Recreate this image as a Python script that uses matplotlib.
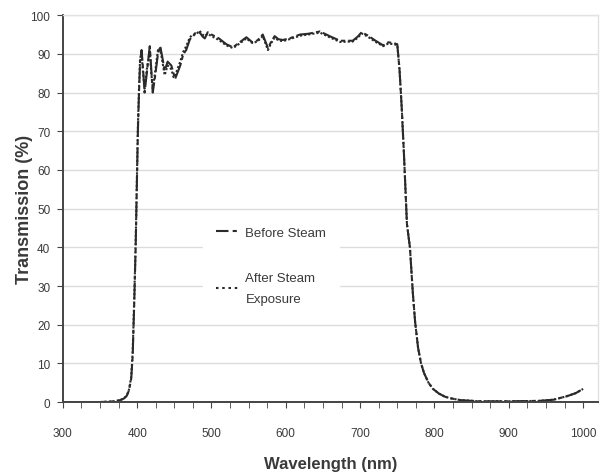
import matplotlib
matplotlib.use("Agg")
import matplotlib.pyplot as plt
from matplotlib.lines import Line2D
from matplotlib.ticker import MultipleLocator

plt.rcParams['font.family'] = ['Liberation Sans Narrow', 'Liberation Sans', 'DejaVu Sans']

# Datos: longitud de onda (nm) y transmisión (%)
wl_before = [300, 350, 370, 377, 382, 386, 389, 392, 394, 396, 398, 399.5, 401, 402.5,
             404, 406, 408, 410, 413, 417, 419, 421, 424, 428, 431, 434, 437, 441, 446,
             449, 451, 454, 458, 462, 466, 471, 475, 479, 484, 488, 491, 495, 500, 510,
             520, 529, 538, 547, 555, 562, 569, 576, 580, 585, 590, 596, 605, 619, 630,
             646, 660, 673, 690, 697, 702, 710, 720, 731, 738, 745, 750, 753, 756, 759,
             763, 767, 771, 774, 778, 782, 786, 792, 798, 806, 814, 821, 835, 860, 900,
             940, 960, 978, 990, 1000]
tr_before = [0, 0, 0.2, 0.5, 0.9, 1.6, 3, 6, 12, 25, 40, 55, 70, 80,
             88, 91, 86, 80, 85, 92, 86, 80, 84, 90, 92, 89, 85.6, 88, 87,
             85, 83.5, 85, 87, 89.9, 91, 93.8, 94.5, 95.6, 95.6, 94.5, 94, 95.6, 95, 94,
             92.5, 91.7, 93, 94.3, 93, 93.5, 95, 91.5, 93, 94.6, 93.8, 93.6, 94, 95, 95.2,
             95.8, 94.5, 93.4, 93.4, 94.5, 95.6, 94.8, 93.5, 92.2, 93, 92.8, 92.5, 86, 76, 64,
             46, 40, 28, 20.7, 14, 10, 7.5, 5, 3.4, 2.2, 1.4, 1, 0.5, 0.2, 0.2,
             0.3, 0.6, 1.5, 2.3, 3.4]

wl_after = [300, 350, 370, 377, 382, 386, 389, 392, 394, 396, 398, 399.5, 401, 402.5,
            404, 406, 408, 410, 413, 417, 419, 421, 424, 428, 431, 434, 437, 441, 446,
            449, 451, 454, 458, 462, 466, 471, 475, 479, 484, 488, 491, 495, 500, 510,
            520, 529, 538, 547, 555, 562, 569, 576, 580, 585, 590, 596, 605, 619, 630,
            646, 660, 673, 690, 697, 702, 710, 720, 731, 738, 745, 750, 753, 756, 759,
            763, 767, 771, 774, 778, 782, 786, 792, 798, 806, 814, 821, 835, 860, 900,
            940, 960, 978, 990, 1000]
tr_after = [0, 0, 0.2, 0.5, 0.9, 1.7, 3.2, 6.5, 13, 26, 41, 56, 71, 81,
            89, 90, 85, 81, 86, 91, 85, 81, 85, 91, 91.5, 88, 84.5, 87, 86,
            84, 84, 86, 88, 90.5, 92, 94.3, 95, 95, 96, 95, 94.6, 95.2, 94.6, 93.6,
            92.2, 91.5, 92.7, 94, 92.8, 93.2, 94.6, 91, 92.7, 94.2, 93.5, 93.3, 93.8, 94.7, 95,
            95.5, 94.2, 93.1, 93.2, 94.2, 95.3, 94.5, 93.2, 92, 92.7, 92.5, 92.3, 86, 76, 64,
            46, 40, 28, 20.7, 14, 10, 7.5, 5, 3.4, 2.2, 1.4, 1, 0.5, 0.2, 0.2,
            0.3, 0.6, 1.5, 2.3, 3.4]

line_color = '#2a2a2a'
text_color = '#3a3a3a'

fig = plt.figure(figsize=(6.04, 4.77), dpi=100)
ax = fig.add_axes([0.104, 0.155, 0.886, 0.811])

ax.plot(wl_before, tr_before, color=line_color, lw=1.5, dashes=(8, 1.5, 2, 1.5))
ax.plot(wl_after, tr_after, color=line_color, lw=1.5, dashes=(1.0, 1.0))

ax.set_xlim(300, 1020)
ax.set_ylim(0, 100)
ax.xaxis.set_major_locator(MultipleLocator(100))
ax.xaxis.set_minor_locator(MultipleLocator(25))
ax.yaxis.set_major_locator(MultipleLocator(10))
ax.grid(True, axis='y', color='#dcdcdc', lw=1.0)
ax.set_axisbelow(True)

for s in ['left', 'bottom']:
    ax.spines[s].set_color('#444444')
    ax.spines[s].set_linewidth(1.4)
for s in ['top', 'right']:
    ax.spines[s].set_color('#e2e2e2')
    ax.spines[s].set_linewidth(1.0)

ax.tick_params(axis='both', which='both', direction='out', colors='#444444',
               labelcolor=text_color, labelsize=8.5)
ax.tick_params(axis='x', which='major', length=4, pad=14)
ax.tick_params(axis='x', which='minor', length=4)
ax.tick_params(axis='y', length=4, pad=5)

ax.set_xlabel('Wavelength (nm)', fontsize=12, fontweight='bold', color=text_color, labelpad=12)
ax.set_ylabel('Transmission (%)', fontsize=13, fontweight='bold', color=text_color, labelpad=-2)

handles = [Line2D([], [], color=line_color, lw=1.5, dashes=(6, 2, 2, 2)),
           Line2D([], [], color=line_color, lw=1.5, dashes=(1.2, 1.8))]
leg = ax.legend(handles, ['Before Steam', 'After Steam\nExposure'],
                loc='upper left', bbox_to_anchor=(0.25, 0.505), frameon=True,
                handlelength=1.9, handletextpad=0.3, labelspacing=2.5,
                fontsize=9.5, borderpad=1.0)
leg.get_frame().set_edgecolor('white')
leg.get_frame().set_facecolor('white')
leg.get_frame().set_alpha(1)
leg.get_frame().set_boxstyle('square', pad=0)
for t in leg.get_texts():
    t.set_color(text_color)
    t.set_linespacing(2.0)

fig.savefig('out.png', dpi=100)
